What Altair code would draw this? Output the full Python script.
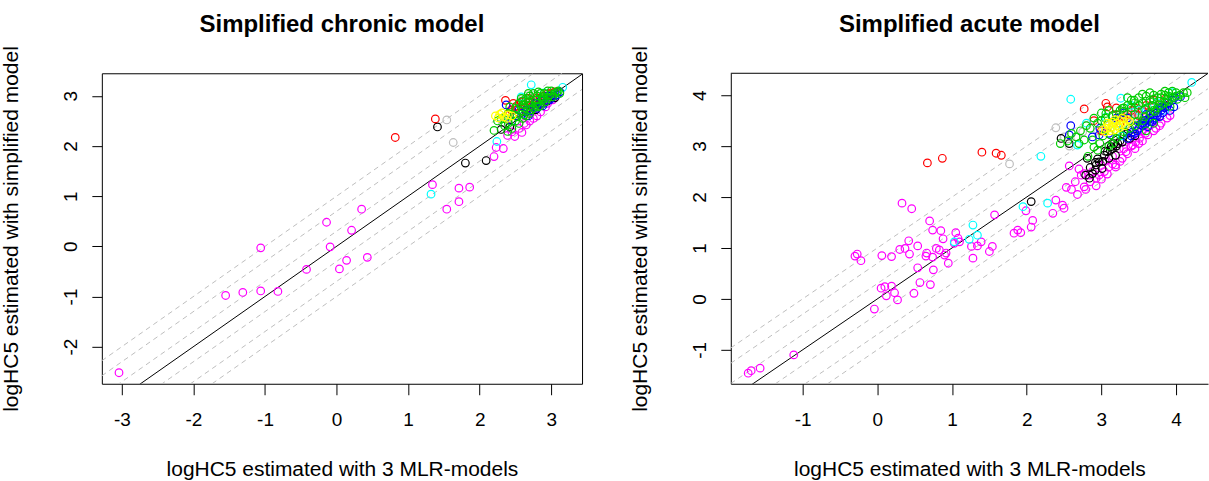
import altair as alt
import pandas as pd

# ---- axis ticks and plotting ranges -------------------------------------
CHRONIC_TICKS_X = [-3, -2, -1, 0, 1, 2, 3]
CHRONIC_TICKS_Y = [-2, -1, 0, 1, 2, 3]
ACUTE_TICKS_X = [-1, 0, 1, 2, 3, 4]
ACUTE_TICKS_Y = [-1, 0, 1, 2, 3, 4]

CHRONIC_XLIM = [-3.28, 3.43]
CHRONIC_YLIM = [-2.74, 3.45]
ACUTE_XLIM = [-1.963, 4.428]
ACUTE_YLIM = [-1.667, 4.43]

# 1:1 line plus factor-2, factor-5 and factor-10 bands (log10 units)
BAND_OFFSETS = [-1.0, -0.699, -0.301, 0.301, 0.699, 1.0]

# R default palette, in drawing order
COLOR_NAMES = ["magenta", "gray", "black", "red", "cyan", "blue", "green3", "yellow"]
COLOR_HEX = ["#FF00FF", "#BEBEBE", "#000000", "#FF0000", "#00FFFF", "#0000FF", "#00CD00", "#FFFF00"]

# ---- chronic model: (MLR estimate, simplified estimate) -----------------
chronic_magenta = [
    (-3.04, -2.52), (-1.55, -0.98), (-1.31, -0.92), (-1.06, -0.89), (-1.06, -0.03),
    (-0.82, -0.90), (-0.42, -0.46), (-0.14, 0.48), (-0.09, -0.01), (0.04, -0.45),
    (0.14, -0.28), (0.21, 0.32), (0.35, 0.74), (0.43, -0.22), (1.34, 1.23),
    (1.71, 1.16), (1.86, 1.18), (1.71, 0.89), (1.54, 0.74), (2.20, 1.79),
    (2.33, 1.95), (2.23, 1.97), (2.39, 2.21), (2.49, 2.19), (2.59, 2.27),
    (2.65, 2.42), (2.75, 2.55), (2.85, 2.68), (2.92, 2.78), (2.55, 2.35),
    (2.70, 2.50), (2.80, 2.60), (2.95, 2.85), (3.02, 2.92), (2.62, 2.45),
    (2.45, 2.28),
]
chronic_gray = [
    (1.54, 2.52), (1.63, 2.07), (2.32, 2.46), (2.60, 2.95), (2.66, 3.00),
    (2.55, 2.86), (2.72, 2.96), (2.38, 2.52), (2.50, 2.78), (2.62, 2.90),
    (2.78, 3.02),
]
chronic_black = [
    (1.41, 2.38), (1.80, 1.66), (2.09, 1.71), (2.30, 2.33), (2.95, 2.90),
    (3.05, 2.96), (2.78, 2.72), (2.42, 2.38), (2.85, 2.85), (3.00, 3.00),
    (2.65, 2.68),
]
chronic_red = [
    (0.82, 2.17), (1.38, 2.54), (2.36, 2.91), (2.44, 2.72), (2.51, 2.79),
    (2.60, 2.82), (2.70, 2.88), (2.80, 2.96), (2.90, 3.00), (2.55, 2.66),
    (3.00, 3.05), (2.75, 2.92), (2.66, 2.76), (2.47, 2.85), (2.58, 2.88),
    (2.68, 2.95), (2.85, 2.95), (2.95, 3.05), (2.42, 2.68), (3.05, 3.08),
    (2.72, 2.78),
]
chronic_cyan = [
    (1.32, 1.04), (2.24, 2.09), (2.72, 3.22), (3.16, 3.17), (2.90, 3.06), (2.58, 2.98),
]
chronic_blue = [
    (2.37, 2.82), (2.50, 2.60), (2.60, 2.65), (2.70, 2.70), (2.80, 2.75),
    (2.90, 2.85), (3.00, 2.95), (3.05, 3.00), (2.85, 2.90), (2.95, 3.00),
    (2.45, 2.50), (2.65, 2.72), (2.75, 2.78), (2.88, 2.80), (2.98, 2.92),
    (3.08, 3.02), (2.55, 2.72), (2.78, 2.85), (3.12, 3.08), (2.68, 2.60),
]
chronic_green = [
    (2.20, 2.31), (2.39, 2.29), (2.25, 2.50), (2.30, 2.55), (2.40, 2.65),
    (2.50, 2.75), (2.55, 2.85), (2.60, 2.90), (2.65, 2.95), (2.70, 3.00),
    (2.75, 3.05), (2.80, 3.00), (2.85, 3.05), (2.90, 3.05), (2.95, 3.10),
    (3.00, 3.10), (2.60, 2.70), (2.70, 2.80), (2.80, 2.85), (2.90, 2.95),
    (2.50, 2.50), (2.60, 2.55), (2.70, 2.65), (2.45, 2.35), (2.55, 2.45),
    (2.75, 2.75), (2.85, 2.80), (2.65, 2.60), (3.05, 3.05), (3.10, 3.10),
    (2.95, 2.95), (2.40, 2.45), (2.42, 2.78), (2.48, 2.62), (2.58, 2.78),
    (2.68, 2.88), (2.78, 2.92), (2.88, 2.98), (2.98, 3.02), (3.08, 3.08),
    (2.62, 2.82), (2.72, 2.72), (2.82, 2.78), (2.92, 2.88), (3.02, 2.98),
    (2.35, 2.40), (2.52, 2.58), (2.62, 2.62), (2.78, 2.80), (2.88, 2.92),
    (3.12, 3.05), (2.58, 2.95), (2.68, 3.05), (2.82, 3.08),
]
chronic_yellow = [
    (2.22, 2.60), (2.28, 2.63), (2.34, 2.58), (2.40, 2.62), (2.45, 2.60),
    (2.31, 2.66), (2.38, 2.55), (2.26, 2.56),
]

# ---- acute model --------------------------------------------------------
acute_magenta = [
    (-1.73, -1.46), (-1.69, -1.41), (-1.57, -1.36), (-1.12, -1.10), (-0.30, 0.84),
    (-0.27, 0.88), (-0.22, 0.75), (-0.04, -0.20), (0.05, 0.21), (0.10, 0.24),
    (0.19, 0.25), (0.12, 0.06), (0.23, 0.12), (0.27, -0.02), (0.33, 1.88),
    (0.46, 1.77), (0.06, 0.85), (0.19, 0.83), (0.30, 0.97), (0.37, 0.99),
    (0.42, 1.14), (0.43, 0.88), (0.54, 1.04), (0.54, 0.61), (0.57, 0.32),
    (0.49, 0.11), (0.71, 0.28), (0.75, 0.57), (0.66, 0.90), (0.65, 0.84),
    (0.70, 1.53), (0.74, 1.35), (0.85, 1.34), (0.88, 1.18), (0.79, 0.99),
    (0.83, 0.96), (0.92, 0.90), (0.95, 0.70), (0.74, 0.82), (0.90, 0.86),
    (1.05, 1.30), (1.08, 1.19), (1.03, 1.09), (1.10, 1.12), (1.26, 1.03),
    (1.34, 1.04), (1.39, 1.12), (1.28, 0.80), (1.50, 0.93), (1.54, 1.03),
    (1.57, 1.65), (1.83, 1.29), (1.88, 1.35), (1.92, 1.30), (2.06, 1.41),
    (2.08, 1.54), (1.99, 1.73), (2.35, 1.68), (2.39, 1.94), (2.48, 1.84),
    (2.50, 1.78), (2.53, 2.19), (2.68, 2.05), (2.57, 2.61), (2.77, 2.20),
    (2.79, 2.15), (2.93, 2.22), (2.93, 2.37), (2.73, 2.43), (2.77, 2.46),
    (2.84, 2.43), (2.97, 2.43), (3.04, 2.50), (2.88, 2.50), (3.19, 2.59),
    (3.28, 2.76), (3.33, 2.89), (3.42, 3.02), (3.51, 3.15), (3.59, 3.25),
    (3.73, 3.35), (3.24, 2.95), (3.37, 3.12), (3.46, 3.08), (3.19, 2.63),
    (3.10, 2.59), (2.65, 2.30), (2.85, 2.30), (3.00, 2.35), (3.05, 2.70),
    (3.15, 2.80), (3.30, 2.95), (3.55, 3.30), (3.65, 3.40), (2.60, 2.15),
    (2.70, 2.55), (3.35, 2.85), (3.45, 2.95), (3.55, 3.10), (3.62, 3.22),
    (3.70, 3.30), (3.80, 3.45), (3.88, 3.55), (3.25, 2.70), (3.15, 2.65),
    (3.40, 3.00), (3.50, 3.05), (3.78, 3.40), (3.92, 3.60), (3.00, 2.62),
    (3.08, 2.45),
]
acute_gray = [
    (1.77, 2.65), (2.39, 3.36), (2.50, 3.18), (2.57, 3.00), (2.68, 3.18),
    (2.79, 3.41), (2.75, 3.28), (3.30, 3.60), (3.38, 3.62), (3.45, 3.55),
    (3.40, 3.50), (3.35, 3.45), (3.25, 3.55), (3.50, 3.65), (2.95, 3.30),
    (3.10, 3.40), (3.55, 3.60), (3.20, 3.50), (3.28, 3.62), (3.45, 3.68),
    (3.52, 3.55), (3.15, 3.45), (3.40, 3.58), (3.60, 3.70),
]
acute_black = [
    (2.06, 1.91), (2.46, 3.15), (2.57, 3.05), (2.81, 2.76), (2.79, 2.43),
    (2.84, 2.37), (2.93, 2.63), (2.97, 2.69), (3.04, 2.82), (3.08, 2.89),
    (3.13, 2.99), (3.17, 3.05), (3.19, 2.82), (3.01, 2.56), (2.88, 2.46),
    (2.92, 2.53), (3.10, 2.76), (3.25, 3.10), (3.30, 3.20), (3.35, 3.25),
    (2.85, 2.58), (2.95, 2.75), (3.05, 2.90), (3.12, 2.92), (3.20, 3.00),
    (3.28, 3.08), (3.38, 3.15), (3.45, 3.20), (3.15, 2.95), (3.02, 2.70),
    (3.22, 3.05), (2.92, 2.68),
]
acute_red = [
    (0.67, 2.67), (0.87, 2.76), (1.40, 2.88), (1.59, 2.86), (1.66, 2.82),
    (2.77, 3.73), (3.06, 3.84), (3.08, 3.77), (3.20, 3.75), (3.40, 3.70),
    (3.60, 3.80), (3.30, 3.55), (2.90, 3.50), (3.50, 3.60), (3.00, 3.30),
    (3.70, 3.90), (3.15, 3.60), (3.45, 3.75), (3.25, 3.45), (3.55, 3.70),
    (3.85, 3.92), (3.35, 3.62),
]
acute_cyan = [
    (1.28, 1.45), (1.23, 1.17), (1.34, 1.25), (1.03, 1.12), (1.95, 1.81),
    (2.28, 1.88), (2.19, 2.80), (2.59, 3.92), (3.26, 3.94), (2.68, 3.02),
    (4.21, 4.25), (3.06, 3.57), (3.50, 3.70), (3.75, 3.85), (3.20, 3.40),
    (2.80, 3.45), (3.40, 3.80), (3.62, 3.75), (3.95, 4.05), (3.28, 3.20),
    (3.85, 3.70),
]
acute_blue = [
    (2.59, 3.40), (2.57, 3.22), (2.88, 3.18), (2.97, 3.22), (3.45, 3.25),
    (3.50, 3.35), (3.55, 3.40), (3.60, 3.45), (3.65, 3.55), (3.70, 3.60),
    (3.75, 3.65), (3.80, 3.70), (3.58, 3.50), (3.48, 3.30), (3.85, 3.75),
    (3.90, 3.85), (3.81, 3.77), (3.97, 3.77), (4.06, 3.97), (3.62, 3.38),
    (3.68, 3.48), (3.72, 3.55), (3.52, 3.42), (3.40, 3.20), (3.78, 3.58),
    (3.66, 3.62), (3.95, 3.90), (3.30, 3.65), (3.20, 3.55), (3.35, 3.15),
    (3.42, 3.28), (3.58, 3.42), (3.62, 3.52), (3.70, 3.52), (3.75, 3.60),
    (3.82, 3.65), (3.88, 3.78), (3.92, 3.70), (3.45, 3.38), (3.55, 3.45),
    (3.65, 3.48), (3.78, 3.75), (3.98, 3.95), (3.60, 3.62), (3.35, 3.55),
    (3.10, 3.25), (2.98, 3.35),
]
acute_green = [
    (2.66, 3.18), (2.77, 3.12), (2.88, 3.12), (3.40, 3.90), (3.50, 3.95),
    (3.60, 3.98), (3.70, 4.00), (3.80, 4.02), (3.90, 4.05), (4.00, 4.05),
    (4.10, 4.05), (3.35, 3.80), (3.25, 3.70), (3.15, 3.60), (3.05, 3.55),
    (2.95, 3.45), (2.85, 3.35), (3.10, 3.00), (3.20, 3.15), (3.30, 3.28),
    (3.45, 3.40), (3.55, 3.50), (3.65, 3.65), (3.75, 3.75), (3.85, 3.85),
    (3.95, 3.95), (4.05, 4.00), (3.30, 3.75), (3.45, 3.85), (3.55, 3.85),
    (3.65, 3.90), (3.75, 3.95), (3.85, 4.00), (4.15, 4.05), (4.12, 3.95),
    (3.95, 4.08), (3.00, 3.65), (3.28, 3.74), (3.44, 3.90), (3.06, 3.64),
    (2.82, 2.80), (2.95, 2.92), (3.60, 3.30), (3.70, 3.45), (2.60, 3.25),
    (2.72, 3.30), (2.80, 3.40), (2.90, 3.55), (3.00, 3.50), (3.10, 3.70),
    (3.20, 3.62), (3.30, 3.68), (3.40, 3.75), (3.50, 3.80), (3.60, 3.88),
    (3.70, 3.92), (3.80, 3.95), (3.90, 3.98), (4.00, 3.98), (3.35, 3.95),
    (3.55, 4.02), (3.65, 4.05), (3.85, 4.08), (3.02, 3.20), (3.12, 3.22),
    (3.38, 3.35), (3.48, 3.48), (3.58, 3.58), (3.70, 3.70), (3.80, 3.80),
    (3.90, 3.88), (4.02, 3.92), (3.15, 3.05), (3.25, 3.22), (2.98, 3.05),
    (2.90, 2.98), (3.45, 3.62), (3.58, 3.72), (3.68, 3.80), (3.78, 3.88),
    (3.88, 3.92), (2.45, 3.05), (2.55, 3.10), (2.70, 3.05), (3.92, 3.78),
    (3.72, 3.68),
]
acute_yellow = [
    (3.06, 3.35), (3.10, 3.42), (3.15, 3.38), (3.20, 3.45), (3.25, 3.50),
    (3.30, 3.48), (3.12, 3.30), (3.18, 3.32), (3.22, 3.40), (3.28, 3.55),
    (3.35, 3.52), (3.05, 3.28), (3.15, 3.47), (3.24, 3.36), (3.08, 3.45),
    (3.18, 3.52), (3.26, 3.42), (3.32, 3.40), (3.12, 3.36), (3.38, 3.48),
    (3.02, 3.32),
]

CHRONIC_GROUPS = {
    "magenta": chronic_magenta, "gray": chronic_gray, "black": chronic_black,
    "red": chronic_red, "cyan": chronic_cyan, "blue": chronic_blue,
    "green3": chronic_green, "yellow": chronic_yellow,
}
ACUTE_GROUPS = {
    "magenta": acute_magenta, "gray": acute_gray, "black": acute_black,
    "red": acute_red, "cyan": acute_cyan, "blue": acute_blue,
    "green3": acute_green, "yellow": acute_yellow,
}

FONT = "Liberation Sans"


def point_table(groups):
    rows = []
    for name in COLOR_NAMES:
        for x, y in groups[name]:
            rows.append({"x": x, "y": y, "grp": name})
    return pd.DataFrame(rows)


def band_table(xlim, offsets):
    rows = []
    for c in offsets:
        for x in xlim:
            rows.append({"x": x, "y": x + c, "c": c})
    return pd.DataFrame(rows)


def panel(groups, xlim, ylim, xticks, yticks, title, width, boxed):
    xaxis = alt.Axis(
        values=xticks, title="logHC5 estimated with 3 MLR-models", grid=False,
        domain=not boxed, domainColor="black", domainWidth=1,
        tickColor="black", tickSize=11, tickWidth=1,
        labelFontSize=19, labelPadding=16, labelColor="black", labelFont=FONT,
        labelExpr="'' + datum.value",
        titleFontSize=21, titlePadding=29, titleColor="black", titleFont=FONT,
        titleFontWeight="normal",
    )
    yaxis = alt.Axis(
        values=yticks, title="logHC5 estimated with simplified model", grid=False,
        domain=not boxed, domainColor="black", domainWidth=1,
        tickColor="black", tickSize=10, tickWidth=1,
        labelFontSize=19, labelPadding=11, labelColor="black", labelFont=FONT,
        labelAngle=270, labelAlign="center", labelBaseline="bottom",
        labelExpr="'' + datum.value",
        titleFontSize=21, titlePadding=40, titleColor="black", titleFont=FONT,
        titleFontWeight="normal",
    )
    xenc = alt.X("x:Q", scale=alt.Scale(domain=xlim, nice=False, zero=False), axis=xaxis)
    yenc = alt.Y("y:Q", scale=alt.Scale(domain=ylim, nice=False, zero=False), axis=yaxis)

    bands = alt.Chart(band_table(xlim, BAND_OFFSETS)).mark_line(
        color="#BEBEBE", strokeWidth=1, strokeDash=[5, 4], clip=True
    ).encode(x=xenc, y=yenc, detail="c:N")

    identity = alt.Chart(band_table(xlim, [0.0])).mark_line(
        color="black", strokeWidth=1, clip=True
    ).encode(x=xenc, y=yenc)

    pts = alt.Chart(point_table(groups)).mark_point(
        shape="circle", filled=False, size=58, strokeWidth=1.2, opacity=1, clip=True
    ).encode(
        x=xenc, y=yenc,
        color=alt.Color("grp:N", scale=alt.Scale(domain=COLOR_NAMES, range=COLOR_HEX), legend=None),
    )

    layers = [bands, identity, pts]
    if not boxed:
        # top edge of the frame (the right edge falls outside the page)
        top = alt.Chart(pd.DataFrame({"x": [xlim[0]], "x2": [xlim[1]], "y": [ylim[1]]})).mark_rule(
            color="black", strokeWidth=1
        ).encode(
            x=alt.X("x:Q", scale=alt.Scale(domain=xlim, nice=False, zero=False), axis=xaxis),
            x2="x2:Q",
            y=alt.Y("y:Q", scale=alt.Scale(domain=ylim, nice=False, zero=False), axis=yaxis),
        )
        layers.append(top)

    props = dict(
        width=width, height=311,
        title=alt.TitleParams(
            text=title, fontSize=24, fontWeight="bold", font=FONT, color="black",
            anchor="middle", frame="group", offset=9,
        ),
    )
    chart = alt.layer(*layers).properties(**props)
    if not boxed:
        chart = chart.properties(view=alt.ViewBackground(stroke="transparent"))
    return chart


left = panel(CHRONIC_GROUPS, CHRONIC_XLIM, CHRONIC_YLIM, CHRONIC_TICKS_X, CHRONIC_TICKS_Y,
             "Simplified chronic model", 481, True)
right = panel(ACUTE_GROUPS, ACUTE_XLIM, ACUTE_YLIM, ACUTE_TICKS_X, ACUTE_TICKS_Y,
              "Simplified acute model", 478, False)

chart = alt.hconcat(left, right, spacing=46).configure(
    padding={"left": 0, "top": 11, "right": 0, "bottom": 0},
    font=FONT,
    background="white",
).configure_view(stroke="black", strokeWidth=1)

chart.save("out.html", embed_options={"renderer": "svg", "actions": False})
